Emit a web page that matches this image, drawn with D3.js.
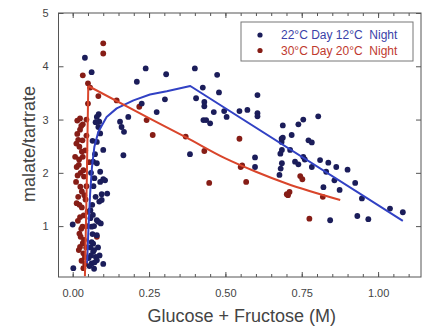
<!DOCTYPE html>
<html>
<head>
<meta charset="utf-8">
<script src="https://cdn.jsdelivr.net/npm/d3@7"></script>
<style>
  html, body { margin: 0; padding: 0; background: #fff; }
  svg { display: block; font-family: "Liberation Sans", Arial, sans-serif; }
</style>
</head>
<body>
<svg id="chart" width="423" height="328"></svg>
<script>
// ---------- data ----------
const seriesNames = ["22\u00B0C Day 12\u00B0C  Night", "30\u00B0C Day 20\u00B0C  Night"];

// 22°C Day / 12°C Night (blue)
const blueX = [0.239,0.210,0.306,0.400,0.473,0.426,0.479,0.404,0.431,0.431,0.462,0.437,0.450,0.496,0.504,0.546,0.572,0.605,0.605,0.605,0.275,0.302,0.226,0.182,0.155,0.160,0.168,0.166,0.384,0.597,0.597,0.428,0.684,0.684,
  0.688,0.739,0.755,0.804,0.688,0.717,0.772,0.783,0.680,0.685,0.712,0.755,0.760,0.728,0.739,0.685,0.681,0.677,0.783,0.810,0.837,0.863,0.900,0.830,0.857,0.874,0.925,0.947,0.821,0.843,0.932,0.968,1.039,1.081,
  0.040,0.062,0.079,0.087,0.084,0.090,0.100,0.079,0.090,0.100,0.067,0.106,0.090,0.113,0.095,0.087,0.066,0.079,0.084,0.062,0.079,0.067,0.067,0.076,0.079,0.062,0.100,0.002,0.000,
  0.055,0.060,0.070,0.072,0.058,0.065,0.070,0.058,0.075,0.068,0.060,0.073,0.065,0.085,0.075,0.079,
  0.052,0.062,0.070,0.058,0.064,0.071,0.083,0.088,0.092,0.095];
const blueY = [3.96,3.71,3.85,3.96,3.84,3.60,3.51,3.40,3.33,3.25,3.14,2.99,2.93,3.16,3.05,3.16,3.18,3.46,3.12,3.06,3.14,3.38,3.30,3.05,2.96,2.86,2.77,2.33,2.35,2.29,2.11,2.99,2.64,2.58,
  2.89,2.91,3.00,3.06,2.66,2.71,2.61,2.57,2.36,2.43,2.43,2.30,2.25,2.21,2.16,2.18,2.08,1.96,2.11,2.24,2.19,2.11,2.06,2.02,1.86,1.68,1.81,1.52,1.73,1.11,1.19,1.13,1.33,1.26,
  4.16,3.89,3.05,2.96,2.86,2.74,2.43,2.58,2.02,1.88,2.21,1.86,1.83,1.61,1.49,1.46,1.21,1.11,1.08,0.99,0.83,0.67,0.52,0.42,0.36,0.30,0.29,0.21,1.03,
  0.25,0.45,0.55,0.32,0.60,0.85,1.00,1.30,1.55,1.75,2.00,2.35,2.60,3.10,2.95,2.18,
  0.40,0.70,0.20,1.15,1.40,1.90,0.60,0.45,1.05,1.60];

// 30°C Day / 20°C Night (red)
const redX = [0.100,0.100,0.033,0.050,0.057,0.084,0.144,0.218,0.242,0.262,0.370,0.431,0.447,0.546,0.550,0.555,0.568,0.745,0.752,0.701,0.710,0.705,0.819,0.775,
  0.024,0.015,0.033,0.024,0.015,0.032,0.022,0.008,0.021,0.033,0.013,0.026,0.037,0.011,0.025,0.018,0.013,0.030,0.024,0.032,0.022,0.037,0.024,0.035,0.029,0.041,0.035,0.079,0.049,0.041,0.045,0.042,0.047,
  0.028,0.018,0.030,0.020,0.035,0.016,0.030,0.022,0.036,0.017,0.028,0.033,0.020,0.040,0.026,0.044,0.038,0.012,0.045,0.050,0.045,0.054];
const redY = [4.43,4.24,3.83,3.68,3.60,3.44,3.36,3.24,2.99,2.71,2.68,2.41,1.81,2.64,2.11,2.14,1.83,1.94,1.88,1.60,1.64,1.58,1.55,1.14,
  3.02,2.98,2.91,2.81,2.73,2.61,2.49,2.30,2.25,2.30,2.11,2.00,1.93,1.83,1.74,1.55,1.43,1.35,1.17,0.99,0.86,0.74,0.61,0.49,0.35,0.29,0.21,0.80,1.27,2.42,1.75,1.50,1.00,
  2.88,2.62,2.40,2.15,2.05,1.95,1.65,1.40,1.20,1.10,0.95,0.68,0.55,0.42,0.80,0.60,1.58,2.55,2.70,3.30,3.00,2.20];

// fitted curves
const blueLineX = [0.047,0.052,0.057,0.063,0.071,0.084,0.111,0.144,0.199,0.253,0.308,0.385,1.081];
const blueLineY = [0.30,1.00,1.60,2.10,2.49,2.77,3.05,3.21,3.36,3.47,3.53,3.63,1.10];
const redRiseX = [0.040,0.046,0.051];
const redRiseY = [0.06,1.80,3.63];
const redFallX = [0.051,0.242,0.373,0.500,0.600,0.700,0.876];
const redFallY = [3.63,3.05,2.66,2.27,2.02,1.80,1.49];

const xTickValues = [0, 0.25, 0.5, 0.75, 1.0];
const xTickLabels = ["0.00", "0.25", "0.50", "0.75", "1.00"];
const yTickValues = [1, 2, 3, 4, 5];
const yTickLabels = ["1", "2", "3", "4", "5"];

// ---------- layout ----------
const svg = d3.select("#chart");
const L = 58.5, R = 421, T = 13, B = 277;
const x = d3.scaleLinear().domain([-0.0465, 1.1405]).range([L, R]);
const y = d3.scaleLinear().domain([0.045, 5]).range([B, T]);

const blueDot = "#1b1d5a", redDot = "#861d16";
const blueLine = "#3141c4", redLine = "#d9452b";

// frame
svg.append("rect").attr("x", L).attr("y", T).attr("width", R - L).attr("height", B - T)
  .attr("fill", "none").attr("stroke", "#555").attr("stroke-width", 1);

// minor ticks (every 0.05) and major ticks
const minorX = d3.range(0, 1.1401, 0.05).map(v => +v.toFixed(2));
const axisColor = "#555";
const gb = svg.append("g").attr("transform", `translate(0,${B})`)
  .call(d3.axisBottom(x).tickValues(minorX).tickSize(-3).tickFormat(""));
const gt = svg.append("g").attr("transform", `translate(0,${T})`)
  .call(d3.axisTop(x).tickValues(minorX).tickSize(-3).tickFormat(""));
const gbM = svg.append("g").attr("transform", `translate(0,${B})`)
  .call(d3.axisBottom(x).tickValues(xTickValues).tickSize(-5).tickPadding(12)
    .tickFormat((d, i) => xTickLabels[i]));
const gtM = svg.append("g").attr("transform", `translate(0,${T})`)
  .call(d3.axisTop(x).tickValues(xTickValues).tickSize(-5).tickFormat(""));
const gl = svg.append("g").attr("transform", `translate(${L},0)`)
  .call(d3.axisLeft(y).tickValues(yTickValues).tickSize(-5).tickPadding(10)
    .tickFormat((d, i) => yTickLabels[i]));
const gr = svg.append("g").attr("transform", `translate(${R},0)`)
  .call(d3.axisRight(y).tickValues(yTickValues).tickSize(-5).tickFormat(""));
[gb, gt, gbM, gtM, gl, gr].forEach(g => {
  g.select(".domain").remove();
  g.selectAll("line").attr("stroke", axisColor);
  g.selectAll("text").attr("fill", "#444").style("font-size", "11px")
    .style("font-family", "'Liberation Sans', Arial, sans-serif");
});

// points
const blueData = blueX.map((v, i) => [v, blueY[i]]);
const redData = redX.map((v, i) => [v, redY[i]]);
svg.append("g").selectAll("circle").data(redData).join("circle")
  .attr("cx", d => x(d[0])).attr("cy", d => y(d[1])).attr("r", 2.9)
  .attr("fill", redDot);
svg.append("g").selectAll("circle").data(blueData).join("circle")
  .attr("cx", d => x(d[0])).attr("cy", d => y(d[1])).attr("r", 2.9)
  .attr("fill", blueDot);

// lines
const line = d3.line().x(d => x(d[0])).y(d => y(d[1]));
const smooth = d3.line().x(d => x(d[0])).y(d => y(d[1])).curve(d3.curveMonotoneX);
svg.append("path").datum(blueLineX.map((v, i) => [v, blueLineY[i]]))
  .attr("d", line).attr("fill", "none").attr("stroke", blueLine).attr("stroke-width", 2)
  .attr("stroke-linejoin", "round");
svg.append("path").datum(redRiseX.map((v, i) => [v, redRiseY[i]]))
  .attr("d", line).attr("fill", "none").attr("stroke", redLine).attr("stroke-width", 2);
svg.append("path").datum(redFallX.map((v, i) => [v, redFallY[i]]))
  .attr("d", smooth).attr("fill", "none").attr("stroke", redLine).attr("stroke-width", 2);

// axis titles
svg.append("text").attr("x", (L + R) / 2 + 2).attr("y", 322).attr("text-anchor", "middle")
  .attr("fill", "#444").style("font-size", "18px").text("Glucose + Fructose (M)");
svg.append("text").attr("transform", `translate(35,${(T + B) / 2 - 1}) rotate(-90)`)
  .attr("text-anchor", "middle").attr("fill", "#444").style("font-size", "18px").text("malate/tartrate");

// legend
const lg = svg.append("g");
lg.append("rect").attr("x", 241).attr("y", 22).attr("width", 172).attr("height", 39)
  .attr("fill", "#fff").attr("stroke", "#777").attr("stroke-width", 1);
const legColors = [blueDot, redDot];
const legText = ["#3a3fa8", "#c0392e"];
seriesNames.forEach((name, i) => {
  lg.append("circle").attr("cx", 260).attr("cy", 35 + i * 15.5).attr("r", 2.6).attr("fill", legColors[i]);
  lg.append("text").attr("x", 281).attr("y", 39 + i * 15.5).attr("fill", legText[i])
    .style("font-size", "12px").style("white-space", "pre").attr("xml:space", "preserve").text(name);
});
</script>
</body>
</html>
